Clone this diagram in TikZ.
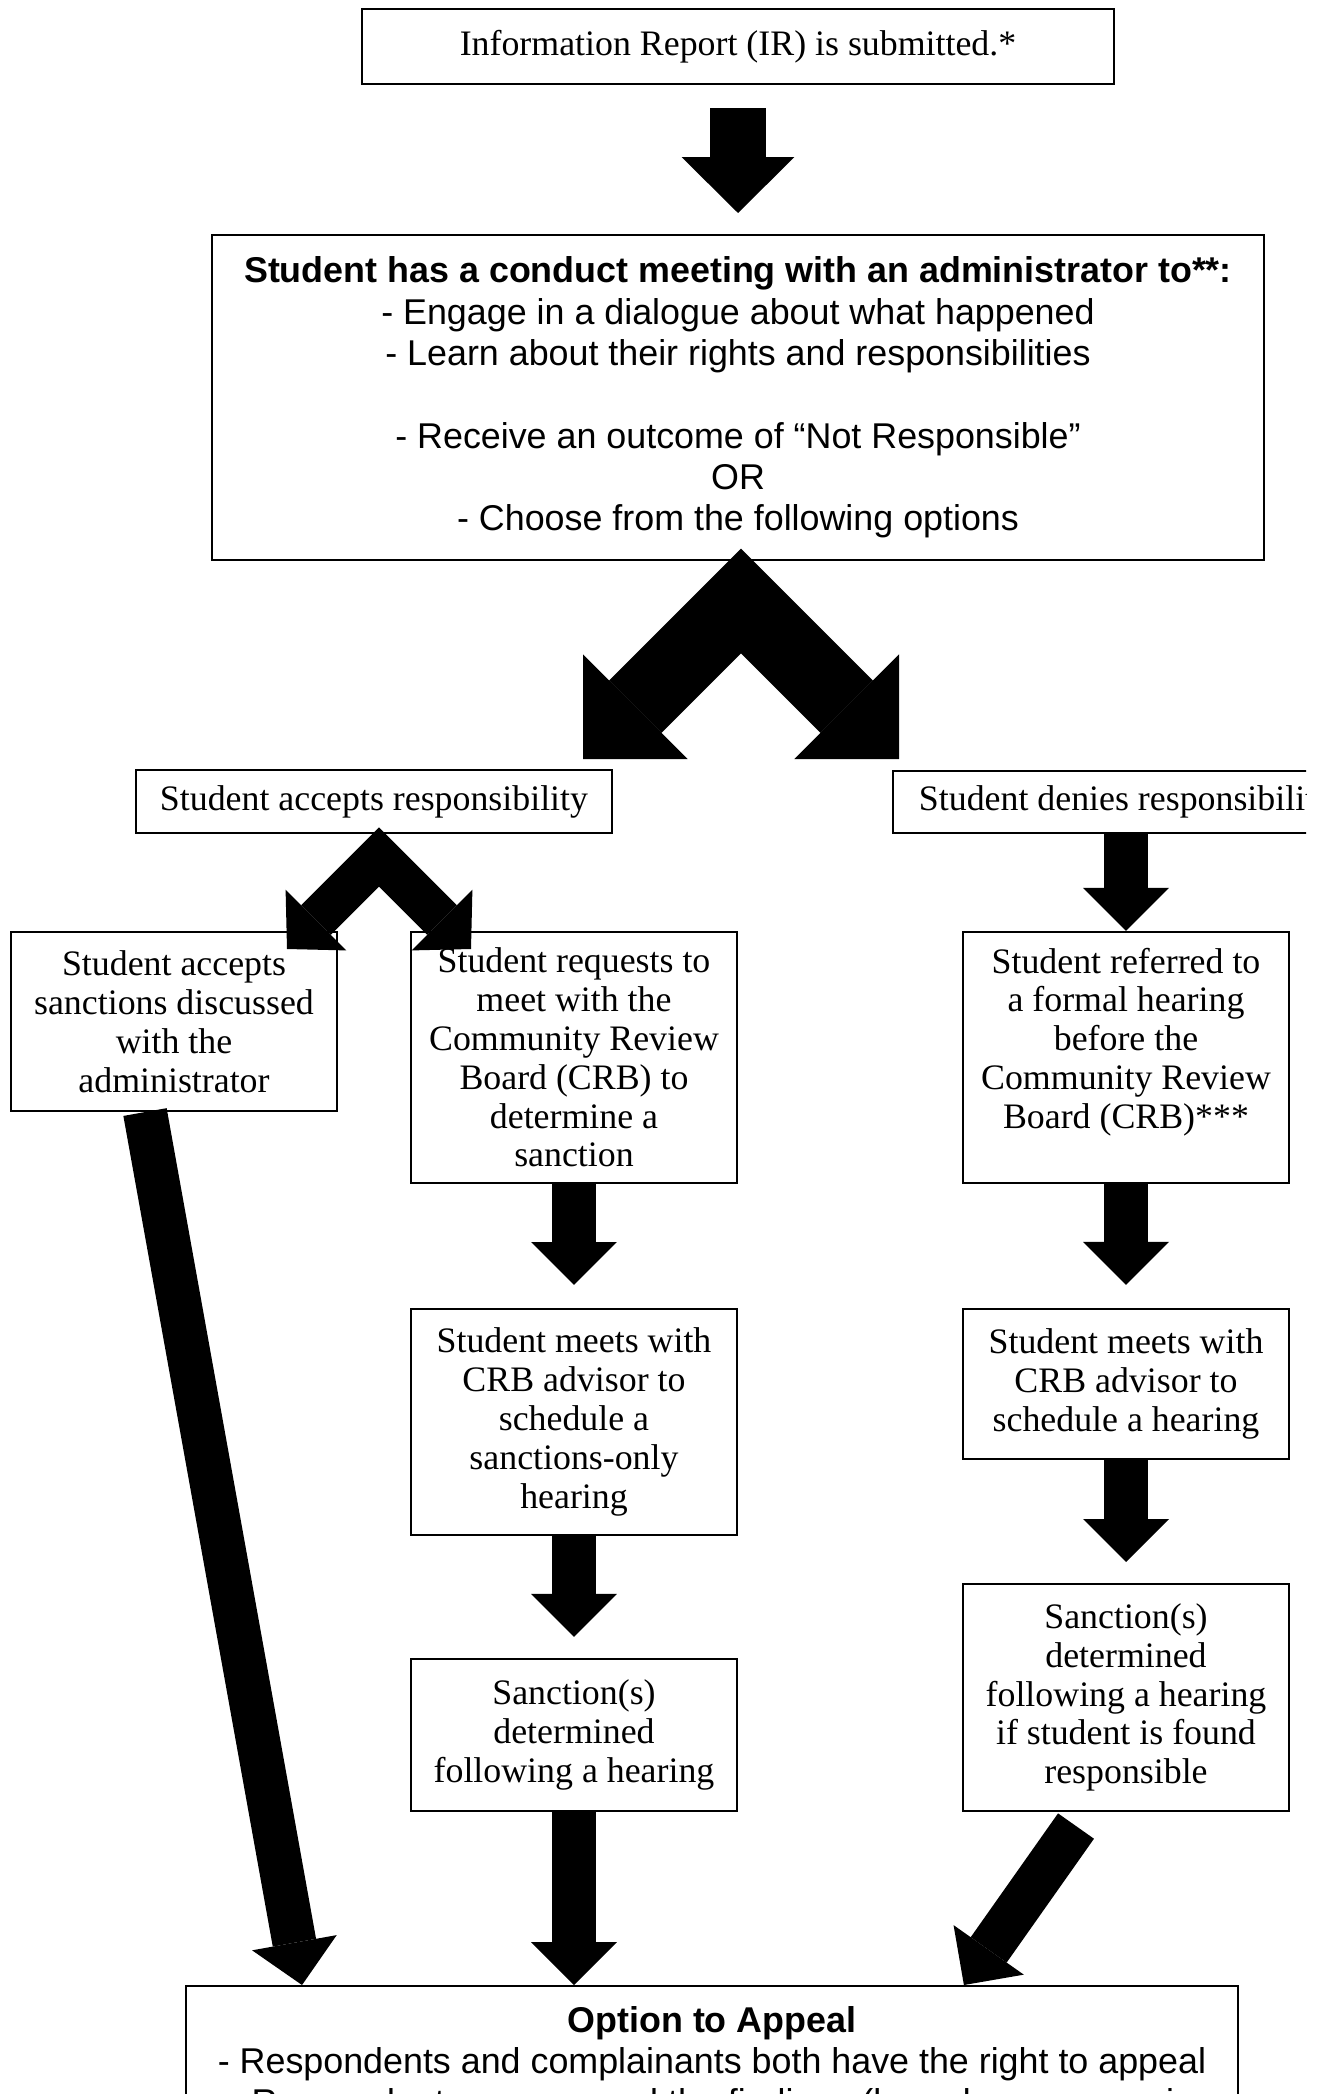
\documentclass[tikz,border=0pt]{standalone}
\usepackage{fontspec}
\setmainfont{Liberation Serif}
\setsansfont{Liberation Sans}
\usetikzlibrary{arrows.meta}

\begin{document}
\begin{tikzpicture}[x=0.02cm, y=-0.02cm,
  box/.style={draw, line width=1.2pt, inner sep=0pt, align=center, minimum width=6.52cm,
    font=\fontsize{20.4}{22.1}\selectfont},
  sansbox/.style={box, font=\sffamily\fontsize{20.4}{23.5}\selectfont},
  bigarrow/.style={line width=1.12cm, -{Triangle[length=1.12cm, width=2.26cm, line width=0pt]}},
  blockarrow/.style={line width=0.88cm, -{Triangle[length=0.86cm, width=1.72cm, line width=0pt]}},
  bigfork/.style={line width=1.48cm,
    {Triangle[length=1.48cm, width=2.96cm, line width=0pt]}-{Triangle[length=1.48cm, width=2.96cm, line width=0pt]}},
  smallfork/.style={line width=0.84cm,
    {Triangle[length=0.82cm, width=1.72cm, line width=0pt]}-{Triangle[length=0.82cm, width=1.72cm, line width=0pt]}}]

\useasboundingbox (0, 0) rectangle (1325, 2094);
\clip (0, 0) rectangle (1306, 2094);

\node (report) at (738, 46.5) [box, minimum width=15.04cm, minimum height=1.5cm] {Information Report (IR) is submitted.*};

\node (meeting) at (738, 397.5) [sansbox, minimum width=21.06cm, minimum height=6.5cm]
  {\textbf{Student has a conduct meeting with an administrator to**:}\\
   - Engage in a dialogue about what happened\\
   - Learn about their rights and responsibilities\\[\baselineskip]
   - Receive an outcome of “Not Responsible”\\
   OR\\
   - Choose from the following options};

\node (accept) at (374, 801.5) [box, minimum width=9.52cm, minimum height=1.26cm] {Student accepts responsibility};
\node (deny) at (1126, 802) [box, minimum width=9.32cm, minimum height=1.24cm] {Student denies responsibility};

\node (sancdisc) at (174, 1021.5) [box, minimum height=3.58cm] {Student accepts\\ sanctions discussed\\ with the\\ administrator};
\node (requests) at (574, 1057.5) [box, minimum height=5.02cm] {Student requests to\\ meet with the\\ Community Review\\ Board (CRB) to\\ determine a\\ sanction};
\node (referred) at (1126, 1057.5) [box, minimum height=5.02cm] {Student referred to\\ a formal hearing\\ before the\\ Community Review\\ Board (CRB)***\\ \mbox{}};

\node (meetsL) at (574, 1422) [box, minimum height=4.52cm] {Student meets with\\ CRB advisor to\\ schedule a\\ sanctions-only\\ hearing};
\node (meetsR) at (1126, 1384) [box, minimum height=3cm] {Student meets with\\ CRB advisor to\\ schedule a hearing};

\node (sanctL) at (574, 1735) [box, minimum height=3.04cm] {Sanction(s)\\ determined\\ following a hearing};
\node (sanctR) at (1126, 1697.5) [box, minimum height=4.54cm] {Sanction(s)\\ determined\\ following a hearing\\ if student is found\\ responsible};

\node (appeal) at (712, 1985) [sansbox, anchor=north, minimum width=21.04cm, inner ysep=0.4cm]
  {\textbf{Option to Appeal}\\
   - Respondents and complainants both have the right to appeal\\
   - Respondents may appeal the findings (based on an error in};

\coordinate (split1) at (741, 601);
\coordinate (toaccept) at (583, 759);
\coordinate (todeny) at (899, 759);
\coordinate (split2) at (379, 857);
\coordinate (tosancdisc) at (287, 949);
\coordinate (torequests) at (471, 949);

\draw[bigarrow, shorten <=0.46cm, shorten >=0.42cm] (report) -- (meeting);
\draw[bigfork] (toaccept) -- (split1) -- (todeny);
\draw[smallfork] (tosancdisc) -- (split2) -- (torequests);

\draw[blockarrow] (deny) -- (referred);
\draw[blockarrow, shorten >=0.46cm] (requests) -- (meetsL);
\draw[blockarrow, shorten >=0.46cm] (referred) -- (meetsR);
\draw[blockarrow, shorten >=0.42cm] (meetsL) -- (sanctL);
\draw[blockarrow, shorten >=0.42cm] (meetsR) -- (sanctR);

\draw[blockarrow] ([xshift=-0.58cm]sancdisc.south) -- ([xshift=2.34cm]appeal.north west);
\draw[blockarrow] (sanctL.south) -- (sanctL.south |- appeal.north);
\draw[blockarrow] ([xshift=-1cm, yshift=-0.28cm]sanctR.south) -- ([xshift=15.58cm]appeal.north west);

\end{tikzpicture}
\end{document}
